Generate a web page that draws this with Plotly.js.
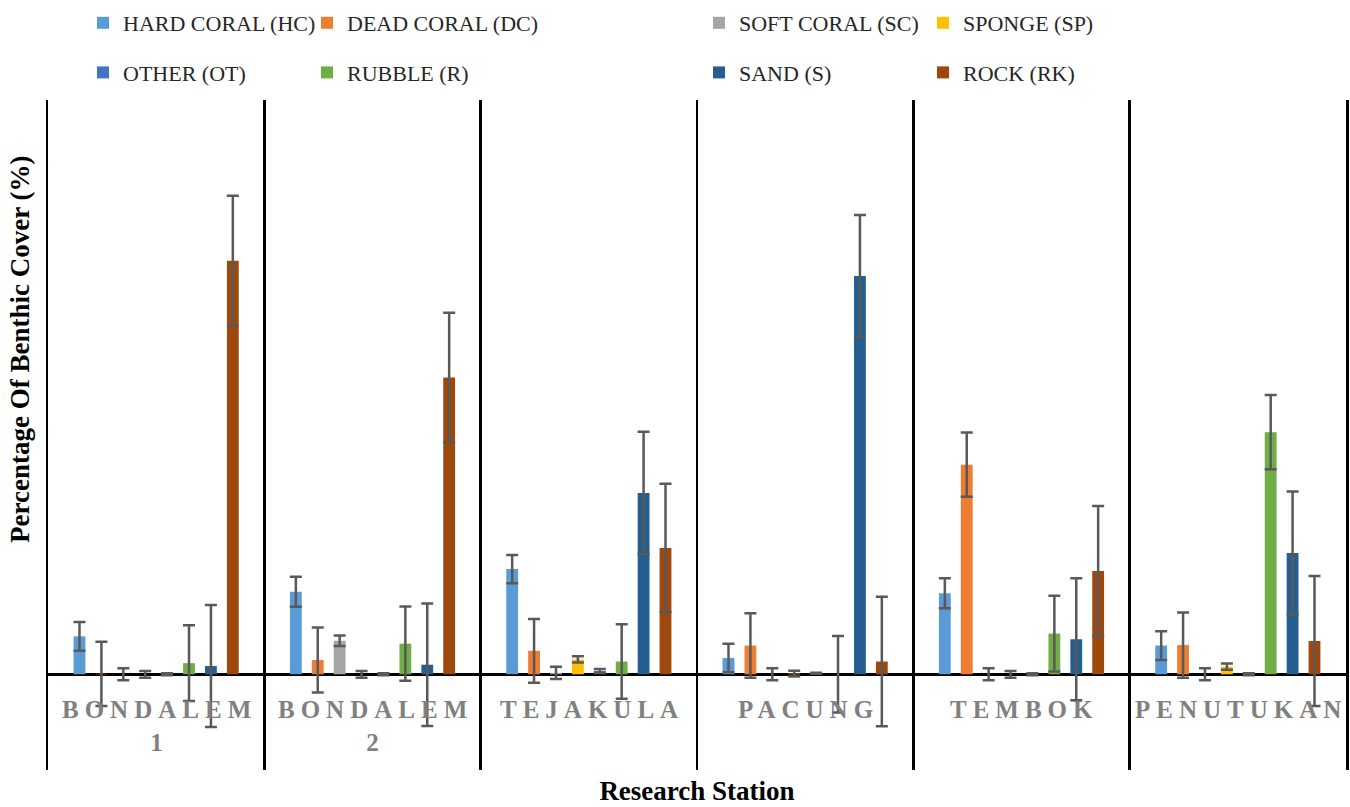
<!DOCTYPE html>
<html><head><meta charset="utf-8">
<script src="https://cdn.plot.ly/plotly-3.0.1.min.js"></script>
<style>
html,body{margin:0;padding:0;background:#fff}
#chart{width:1350px;height:807px}
</style></head>
<body><div id="chart"></div>
<script>
// ---- data ----
const stations = ["BONDALEM 1","BONDALEM 2","TEJAKULA","PACUNG","TEMBOK","PENUTUKAN"];
const stationLabels = ["BONDALEM<br>1","BONDALEM<br>2","TEJAKULA","PACUNG","TEMBOK","PENUTUKAN"];
const seriesNames = ["HARD CORAL (HC)","DEAD CORAL (DC)","SOFT CORAL (SC)","SPONGE (SP)","OTHER (OT)","RUBBLE (R)","SAND (S)","ROCK (RK)"];
const seriesColors = ["#5B9BD5","#ED7D31","#A5A5A5","#FFC000","#4472C4","#70AD47","#255E91","#9E480E"];

const hardCoral    = [3.96, 8.62, 10.99, 1.70, 8.46, 3.00];
const hardCoralErr = [1.50, 1.57, 1.48, 1.48, 1.57, 1.50];
const deadCoral    = [0.05, 1.49, 2.45, 3.00, 21.9, 3.05];
const deadCoralErr = [3.36, 3.40, 3.33, 3.37, 3.36, 3.41];
const softCoral    = [0.00, 3.50, 0.15, 0.00, 0.00, 0.00];
const softCoralErr = [0.63, 0.55, 0.63, 0.63, 0.63, 0.63];
const sponge       = [0.00, 0.00, 1.55, 0.07, 0.00, 0.80];
const spongeErr    = [0.35, 0.35, 0.33, 0.29, 0.35, 0.33];
const other        = [0.00, 0.00, 0.35, 0.10, 0.00, 0.00];
const otherErr     = [0.10, 0.10, 0.20, 0.05, 0.10, 0.10];
const rubble       = [1.16, 3.20, 1.33, 0.00, 4.25, 25.3];
const rubbleErr    = [3.96, 3.88, 3.89, 4.00, 3.95, 3.88];
const sand         = [0.86, 1.00, 18.95, 41.6, 3.66, 12.68];
const sandErr      = [6.38, 6.40, 6.39, 6.39, 6.37, 6.41];
const rock         = [43.2, 31.0, 13.2, 1.33, 10.8, 3.48];
const rockErr      = [6.80, 6.77, 6.70, 6.77, 6.77, 6.79];

const seriesValues = [hardCoral, deadCoral, softCoral, sponge, other, rubble, sand, rock];
const seriesErrors = [hardCoralErr, deadCoralErr, softCoralErr, spongeErr, otherErr, rubbleErr, sandErr, rockErr];

// ---- chart ----
const legendIds = ["legend","legend2","legend3","legend4"];
const traces = seriesNames.map((name, i) => ({
  type: "bar",
  name: name,
  x: stations,
  y: seriesValues[i],
  marker: {color: seriesColors[i], line: {width: 0}},
  error_y: {type: "data", array: seriesErrors[i], visible: true, color: "#595959", thickness: 2.5, width: 6},
  legend: legendIds[i % 4],
  legendgroup: "g" + i,
  hoverinfo: "x+y+name"
}));

const serif = "Liberation Serif";
const legendTextX = [123, 347, 739, 963];
const plotL = 48, plotR = 1346, plotT = 100, plotB = 770;
const pw = plotR - plotL, ph = plotB - plotT;

function legendCfg(k) {
  return {
    x: (legendTextX[k] - 40 - plotL) / pw,
    xanchor: "left",
    y: (plotB - 2) / ph,
    yanchor: "top",
    orientation: "v",
    traceorder: "grouped",
    tracegroupgap: 18,
    font: {family: serif, size: 22, color: "#262626"},
    bgcolor: "rgba(0,0,0,0)",
    borderwidth: 0
  };
}

const annotations = stationLabels.map((lab, i) => ({
  x: stations[i], xref: "x",
  y: 0, yref: "y",
  yanchor: "top", xanchor: "center",
  yshift: -20, xshift: 3,
  text: "<b>" + lab + "</b>",
  showarrow: false,
  align: "center",
  font: {family: serif, size: 25, color: "#808080", weight: "bold"}
}));
annotations.push({
  xref: "paper", x: 0, xshift: -28, xanchor: "center",
  yref: "paper", y: (plotB - 350) / ph, yanchor: "middle",
  text: "<b>Percentage Of Benthic Cover (%)</b>",
  textangle: -90, showarrow: false,
  font: {family: serif, size: 27, color: "#000"}
});

const layout = {
  width: 1350, height: 807,
  font: {family: serif},
  margin: {l: plotL, r: 1350 - plotR, t: plotT, b: 807 - plotB, pad: 0, autoexpand: false},
  paper_bgcolor: "#fff", plot_bgcolor: "#fff",
  barmode: "group",
  bargap: 0.19,
  bargroupgap: 0.46,
  showlegend: true,
  legend: legendCfg(0), legend2: legendCfg(1), legend3: legendCfg(2), legend4: legendCfg(3),
  xaxis: {
    type: "category",
    tickson: "boundaries",
    showgrid: true, gridcolor: "#000", gridwidth: 2.5,
    ticks: "", showticklabels: false,
    showline: false, zeroline: false,
    range: [-0.5, 5.5],
    title: {text: "<b>Research Station</b>", font: {family: serif, size: 27, color: "#000"}, standoff: 11},
    automargin: false
  },
  yaxis: {
    range: [-10, 60],
    showgrid: false, showticklabels: false, ticks: "",
    zeroline: true, zerolinecolor: "#000", zerolinewidth: 2.5,
    showline: true, linecolor: "#000", linewidth: 2.5, mirror: true,
    automargin: false
  },
  annotations: annotations
};

Plotly.newPlot("chart", traces, layout, {displayModeBar: false, staticPlot: true}).then(() => {
  const groups = document.querySelectorAll("g.annotation");
  groups.forEach(g => {
    const idx = parseInt(g.getAttribute("data-index"), 10);
    if (idx < stationLabels.length) {
      g.querySelectorAll("text, tspan").forEach(t => { t.style.letterSpacing = "6px"; });
    }
  });
});
</script>
</body></html>
